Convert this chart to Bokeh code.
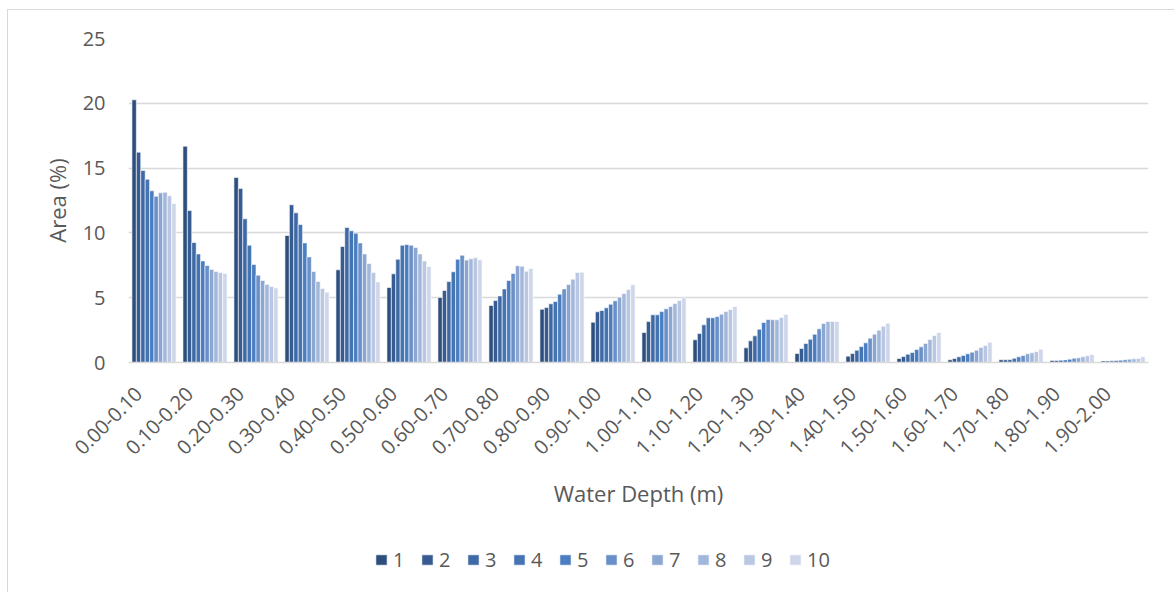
import math
from bokeh.plotting import figure
from bokeh.layouts import column
from bokeh.models import (ColumnDataSource, Range1d, Legend, LegendItem, FixedTicker,
                          CustomJSTickFormatter)
from bokeh.transform import dodge
from bokeh.embed import file_html
from bokeh.resources import INLINE

categories = ["0.00-0.10", "0.10-0.20", "0.20-0.30", "0.30-0.40", "0.40-0.50",
              "0.50-0.60", "0.60-0.70", "0.70-0.80", "0.80-0.90", "0.90-1.00",
              "1.00-1.10", "1.10-1.20", "1.20-1.30", "1.30-1.40", "1.40-1.50",
              "1.50-1.60", "1.60-1.70", "1.70-1.80", "1.80-1.90", "1.90-2.00"]

s1 = [20.27, 16.69, 14.27, 9.80, 7.15, 5.79, 5.02, 4.40, 4.11, 3.11, 2.31, 1.75, 1.13, 0.69, 0.49, 0.31, 0.21, 0.21, 0.15, 0.12]
s2 = [16.23, 11.73, 13.43, 12.17, 8.95, 6.84, 5.56, 4.78, 4.24, 3.91, 3.16, 2.24, 1.67, 1.08, 0.69, 0.46, 0.31, 0.21, 0.15, 0.12]
s3 = [14.81, 9.26, 11.09, 11.55, 10.42, 7.97, 6.25, 5.14, 4.53, 4.01, 3.68, 2.91, 2.06, 1.47, 0.95, 0.64, 0.44, 0.23, 0.18, 0.13]
s4 = [14.14, 8.38, 9.05, 10.65, 10.16, 9.05, 7.00, 5.68, 4.71, 4.22, 3.68, 3.45, 2.57, 1.80, 1.23, 0.77, 0.54, 0.33, 0.20, 0.15]
s5 = [13.25, 7.84, 7.56, 9.23, 9.98, 9.10, 7.97, 6.33, 5.27, 4.50, 3.93, 3.45, 3.09, 2.18, 1.52, 1.00, 0.67, 0.44, 0.26, 0.18]
s6 = [12.83, 7.48, 6.74, 8.15, 9.23, 9.05, 8.28, 6.87, 5.68, 4.76, 4.14, 3.55, 3.32, 2.60, 1.88, 1.21, 0.80, 0.54, 0.33, 0.21]
s7 = [13.09, 7.18, 6.33, 7.02, 8.38, 8.87, 7.90, 7.46, 6.02, 5.04, 4.32, 3.73, 3.30, 3.01, 2.18, 1.47, 0.95, 0.67, 0.36, 0.26]
s8 = [13.14, 7.02, 6.02, 6.25, 7.64, 8.38, 8.00, 7.43, 6.43, 5.32, 4.55, 3.93, 3.30, 3.16, 2.49, 1.77, 1.16, 0.75, 0.44, 0.28]
s9 = [12.86, 6.94, 5.86, 5.71, 6.94, 7.84, 8.08, 7.05, 6.94, 5.63, 4.78, 4.09, 3.47, 3.16, 2.80, 2.08, 1.31, 0.85, 0.52, 0.31]
s10 = [12.27, 6.87, 5.76, 5.43, 6.22, 7.41, 7.92, 7.25, 6.97, 5.99, 4.99, 4.32, 3.70, 3.16, 3.03, 2.31, 1.57, 1.03, 0.62, 0.44]

series_names = ["1", "2", "3", "4", "5", "6", "7", "8", "9", "10"]
series = [s1, s2, s3, s4, s5, s6, s7, s8, s9, s10]
colors = ["#2E4F7E", "#375C91", "#3E69A4", "#4574B2", "#4B7EC0",
          "#6A90C9", "#8AA6D1", "#A3B7DA", "#B9C7E3", "#CED7EA"]

y_ticks = [0, 5, 10, 15, 20, 25]

FONT = "Open Sans"
TXT = "#595959"
GRID = "#D9D9D9"

n = len(categories)
data = {"cat": categories, "xi": [i + 0.5 for i in range(n)]}
for name, vals in zip(series_names, series):
    data["s" + name] = vals
source = ColumnDataSource(data)

W = 1166
p = figure(width=W, height=520, x_range=Range1d(0, n),
           y_range=Range1d(0, 25), output_backend="svg", toolbar_location=None,
           min_border_left=120, min_border_right=26, min_border_top=28, min_border_bottom=168)
p.outline_line_color = None
p.background_fill_color = "white"
p.border_fill_color = "white"

bw = 0.0865
for i, (name, col) in enumerate(zip(series_names, colors)):
    off = (i - 4.5) * bw
    p.vbar(x=dodge("xi", off), top="s" + name, width=bw,
           source=source, fill_color=col, line_color="white", line_width=0.6)

p.xgrid.grid_line_color = None
p.ygrid.grid_line_color = GRID
p.ygrid.grid_line_width = 1.3
p.yaxis.ticker = FixedTicker(ticks=y_ticks)

p.yaxis.axis_line_color = None
p.yaxis.major_tick_line_color = None
p.yaxis.minor_tick_line_color = None
p.yaxis.major_label_text_font = FONT
p.yaxis.major_label_text_font_size = "20px"
p.yaxis.major_label_text_color = TXT
p.yaxis.major_label_standoff = 17
p.yaxis.axis_label = "Area (%)"
p.yaxis.axis_label_text_font = FONT
p.yaxis.axis_label_text_font_size = "22px"
p.yaxis.axis_label_text_font_style = "normal"
p.yaxis.axis_label_text_color = TXT
p.yaxis.axis_label_standoff = 8

# category labels: the rotated text ends slightly left of each group's centre
shift = 0.3
p.xaxis.ticker = FixedTicker(ticks=[i + 0.5 - shift for i in range(n)])
p.xaxis.formatter = CustomJSTickFormatter(args=dict(cats=categories, shift=shift),
                                          code="return cats[Math.round(tick + shift - 0.5)];")
p.xaxis.axis_line_color = GRID
p.xaxis.axis_line_width = 1.3
p.xaxis.major_tick_line_color = None
p.xaxis.minor_tick_line_color = None
p.xaxis.major_label_orientation = math.pi / 4
p.xaxis.major_label_text_font = FONT
p.xaxis.major_label_text_font_size = "20px"
p.xaxis.major_label_text_color = TXT
p.xaxis.major_label_standoff = 22
p.xaxis.axis_label = "Water Depth (m)"
p.xaxis.axis_label_text_font = FONT
p.xaxis.axis_label_text_font_size = "22px"
p.xaxis.axis_label_text_font_style = "normal"
p.xaxis.axis_label_text_color = TXT
p.xaxis.axis_label_standoff = 14

# legend strip below the chart
q = figure(width=W, height=62, x_range=Range1d(0, 1), y_range=Range1d(0, 1),
           output_backend="svg", toolbar_location=None,
           min_border_left=0, min_border_right=0, min_border_top=0, min_border_bottom=0)
q.axis.visible = False
q.grid.visible = False
q.outline_line_color = None
q.border_fill_color = "white"
items = []
for name, col in zip(series_names, colors):
    r = q.vbar(x=[0.5], top=[0], bottom=[0], width=0, fill_color=col,
               line_color="white", line_width=0.6)
    items.append(LegendItem(label=name, renderers=[r]))
legend = Legend(items=items, orientation="horizontal", location=(246, 19),
                glyph_width=14, glyph_height=13, label_standoff=5, spacing=7, label_width=20,
                label_text_font=FONT, label_text_font_size="20px", label_text_color=TXT,
                border_line_color=None, background_fill_alpha=0, padding=0, margin=0)
q.add_layout(legend, "center")

layout = column(p, q, spacing=0, margin=(9, 0, 0, 7),
                styles={"border-top": "1px solid #D9D9D9", "border-left": "1px solid #D9D9D9"})
open("out.html", "w").write(file_html(layout, INLINE))
